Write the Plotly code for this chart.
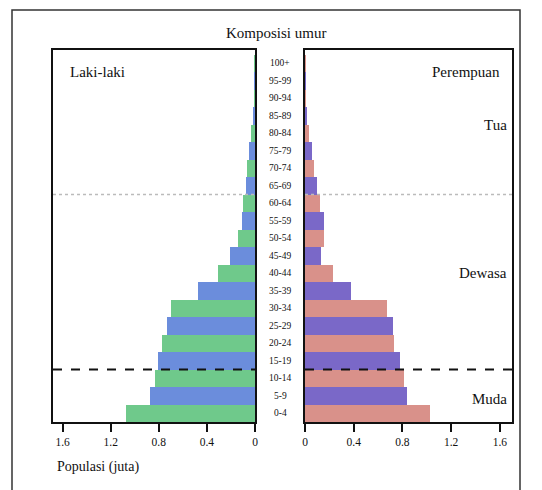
import plotly.graph_objects as go

age_groups = ["0-4", "5-9", "10-14", "15-19", "20-24", "25-29", "30-34", "35-39",
              "40-44", "45-49", "50-54", "55-59", "60-64", "65-69", "70-74",
              "75-79", "80-84", "85-89", "90-94", "95-99", "100+"]
male = [1.075, 0.875, 0.83, 0.81, 0.77, 0.73, 0.70, 0.47, 0.31, 0.21, 0.14,
        0.11, 0.10, 0.075, 0.065, 0.05, 0.03, 0.015, 0.007, 0.003, 0.001]
female = [1.03, 0.84, 0.81, 0.78, 0.73, 0.72, 0.67, 0.375, 0.23, 0.13, 0.16,
          0.16, 0.12, 0.10, 0.075, 0.055, 0.035, 0.018, 0.008, 0.003, 0.001]
left_ticks = [1.6, 1.2, 0.8, 0.4, 0]
left_tick_text = ["1.6", "1.2", "0.8", "0.4", "0"]
right_ticks = [0, 0.4, 0.8, 1.2, 1.6]
right_tick_text = ["0", "0.4", "0.8", "1.2", "1.6"]
groups = [("Tua", 16.5), ("Dewasa", 8.0), ("Muda", 0.8)]

W, H = 542, 490
OFF = 8  # page body margin offset
# target screen positions of plot area: x 53..512, y 50..422
ML, MT = 53 - OFF, 50 - OFF
PW, PH = 459, 372
MR = W - ML - PW
MB = H - MT - PH

def px(x):
    return (x - OFF - ML) / PW

def py(y):
    return (MT + PH - (y - OFF)) / PH

serif = "Liberation Serif"
idx = list(range(len(age_groups)))
male_colors = ["#6fc98b" if i % 2 == 0 else "#6b8ddc" for i in idx]
female_colors = ["#d9918a" if i % 2 == 0 else "#7a68c8" for i in idx]

fig = go.Figure()
fig.add_trace(go.Bar(y=idx, x=male, orientation="h", marker=dict(color=male_colors, line=dict(width=0)),
                     xaxis="x", yaxis="y", showlegend=False))
fig.add_trace(go.Bar(y=idx, x=female, orientation="h", marker=dict(color=female_colors, line=dict(width=0)),
                     xaxis="x2", yaxis="y2", showlegend=False))

yr = [-0.5, 20.76]
fig.update_layout(
    width=W, height=H, margin=dict(l=ML, r=MR, t=MT, b=MB),
    paper_bgcolor="white", plot_bgcolor="white", bargap=0,
    font=dict(family=serif, color="#111"),
    xaxis=dict(domain=[0, (255 - 53) / PW], range=[1.68, 0], tickvals=left_ticks, ticktext=left_tick_text,
               showline=True, linecolor="#111", linewidth=2, mirror=True, ticks="outside",
               ticklen=8, tickwidth=2, tickcolor="#111", showgrid=False, zeroline=False,
               tickfont=dict(size=11.5, family=serif)),
    xaxis2=dict(domain=[(305 - 53) / PW, 1], range=[0, 1.70], tickvals=right_ticks, ticktext=right_tick_text,
                showline=True, linecolor="#111", linewidth=2, mirror=True, ticks="outside",
                ticklen=8, tickwidth=2, tickcolor="#111", showgrid=False, zeroline=False,
                tickfont=dict(size=11.5, family=serif)),
    yaxis=dict(range=yr, showticklabels=False, showline=True, linecolor="#111", linewidth=2,
               mirror=True, showgrid=False, zeroline=False, ticks=""),
    yaxis2=dict(range=yr, anchor="x2", showticklabels=False, showline=True, linecolor="#111",
                linewidth=2, mirror=True, showgrid=False, zeroline=False, ticks=""),
)

# boundary lines
for xr in ["x domain", "x2 domain"]:
    yref = "y" if xr == "x domain" else "y2"
    fig.add_shape(type="line", xref=xr, yref=yref, x0=0, x1=1, y0=2.5, y1=2.5,
                  line=dict(color="#111", width=2, dash="dash"))
    fig.add_shape(type="line", xref=xr, yref=yref, x0=0, x1=1, y0=12.5, y1=12.5,
                  line=dict(color="#bbbbbb", width=1.5, dash="dot"))

# outer frame (bottom edge lies below the visible page)
fig.add_shape(type="rect", xref="paper", yref="paper", x0=px(12), x1=px(520), y0=py(500), y1=py(10),
              line=dict(color="#333", width=1.5))

# age labels in middle column
for i, lab in enumerate(age_groups):
    fig.add_annotation(x=px(280), y=i, xref="paper", yref="y", text=lab, showarrow=False,
                       font=dict(size=9.5, family=serif, color="#111"), xanchor="center", yanchor="middle")

fig.add_annotation(x=px(276), y=py(33), xref="paper", yref="paper", text="Komposisi umur",
                   showarrow=False, font=dict(size=15, family=serif), xanchor="center", yanchor="middle")
fig.add_annotation(x=px(68), y=py(72), xref="paper", yref="paper", text="Laki-laki",
                   showarrow=False, font=dict(size=15, family=serif), xanchor="left", yanchor="middle")
fig.add_annotation(x=px(502), y=py(72), xref="paper", yref="paper", text="Perempuan",
                   showarrow=False, font=dict(size=15, family=serif), xanchor="right", yanchor="middle")
for name, yy in groups:
    fig.add_annotation(x=0.985, y=yy, xref="x2 domain", yref="y2", text=name, showarrow=False,
                       font=dict(size=15, family=serif), xanchor="right", yanchor="middle")
fig.add_annotation(x=px(55), y=py(467), xref="paper", yref="paper", text="Populasi (juta)",
                   showarrow=False, font=dict(size=14, family=serif), xanchor="left", yanchor="middle")

fig.write_html("out.html")
